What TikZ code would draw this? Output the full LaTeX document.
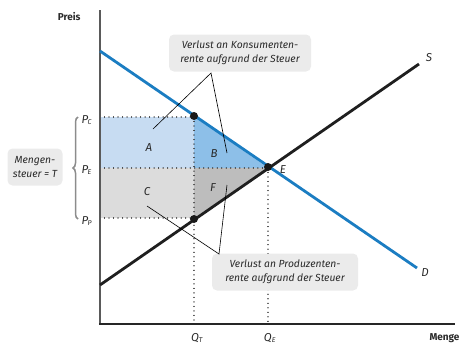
\documentclass[tikz,border=0pt]{standalone}
\usepackage{fontspec}
\setmainfont{Fira Sans}
\usetikzlibrary{decorations.pathreplacing}
\definecolor{dblue}{HTML}{1B7DC2}
\definecolor{lblue}{HTML}{C7DCF2}
\definecolor{mblue}{HTML}{8DBFE8}
\definecolor{lgray}{HTML}{DCDCDC}
\definecolor{mgray}{HTML}{BDBDBD}
\definecolor{boxgray}{HTML}{EBEBEB}
\definecolor{axgray}{HTML}{5A5A5A}
\definecolor{txtgray}{HTML}{2A2A2A}
\tikzset{
  callout/.style={fill=boxgray, rounded corners=5pt, align=center, font=\itshape\fontsize{10.3}{14}\selectfont, text=txtgray, inner sep=3pt},
  lab/.style={font=\itshape\fontsize{11.5}{13}\selectfont, text=txtgray},
  dotln/.style={line width=1.2pt, dash pattern=on 0.01pt off 4.5pt, line cap=round, black!80},
  pointer/.style={line width=0.6pt, black},
  bigdot/.style={circle, fill=black!90, inner sep=0pt, minimum size=8pt},
  axislbl/.style={font=\bfseries\fontsize{10}{12}\selectfont, text=txtgray}
}
\begin{document}
\begin{tikzpicture}[x=1pt,y=-1pt]
\useasboundingbox (0,0) rectangle (464,346);
% areas
\fill[lblue] (100,117) rectangle (194,168);
\fill[lgray] (100,168) rectangle (194,218);
\fill[mblue] (194,116) -- (194,168) -- (268,168) -- cycle;
\fill[mgray] (194,168) -- (194,219) -- (268,168) -- cycle;
% dotted lines
\draw[dotln] (100,117) -- (194,117);
\draw[dotln] (100,168) -- (268,168);
\draw[dotln] (100,218) -- (194,218);
\draw[dotln] (194,117) -- (194,324);
\draw[dotln] (268,168) -- (268,324);
% axes
\draw[axgray, line width=1.3pt] (100,10) -- (100,324);
\draw[black!85, line width=1.3pt] (99.4,324) -- (455,324);
\node[axislbl, anchor=east] (preis) at (84,17) {Preis};
\node[axislbl, anchor=north east] (menge) at (463,330) {Menge};
% curves
\draw[dblue, line width=2.8pt] (100,51) -- (417,268);
\draw[black!88, line width=2.8pt] (100,285) -- (419,64);
\node[lab] (D) at (425,273) {D};
\node[lab] (S) at (429,58) {S};
\node[lab] (E) at (283,170) {E};
% points
\node[bigdot] (pc) at (194,116) {};
\node[bigdot] (pp) at (194,219) {};
\node[bigdot] (pe) at (268,167) {};
% area labels
\node[lab] (A) at (149,148) {A};
\node[lab] (B) at (214,154) {B};
\node[lab] (C) at (147,192) {C};
\node[lab] (F) at (213,188) {F};
% axis values
\node[lab, anchor=west] (PC) at (78,120) {P\textsubscript{\kern-0.5pt\scriptsize C}};
\node[lab, anchor=west] (PE) at (78,170) {P\textsubscript{\kern-0.5pt\scriptsize E}};
\node[lab, anchor=west] (PP) at (78,221) {P\textsubscript{\kern-0.5pt\scriptsize P}};
\node[lab] (QT) at (197,338) {Q\textsubscript{\scriptsize T}};
\node[lab] (QE) at (270,338) {Q\textsubscript{\scriptsize E}};
% brace
\draw[black!45, line width=1.5pt, decorate, decoration={brace, amplitude=5pt}] (78,219) -- (78,117);
\node[callout, minimum width=55pt, minimum height=37pt] (mst) at (35,167) {Mengen-\\steuer = T};
% callouts
\node[callout, minimum width=142pt, minimum height=37pt] (ks) at (240,53) {Verlust an Konsumenten-\\rente aufgrund der Steuer};
\node[callout, minimum width=146pt, minimum height=37pt] (ps) at (285,272) {Verlust an Produzenten-\\rente aufgrund der Steuer};
\coordinate (k0) at (211,73);
\coordinate (k1) at (153,129);
\coordinate (k2) at (227,153);
\coordinate (p0) at (219,254);
\coordinate (p1) at (227,185);
\coordinate (p2) at (147,206);
\draw[pointer] (k1) -- (k0) -- (k2);
\draw[pointer] (p1) -- (p0) -- (p2);
\end{tikzpicture}
\end{document}
